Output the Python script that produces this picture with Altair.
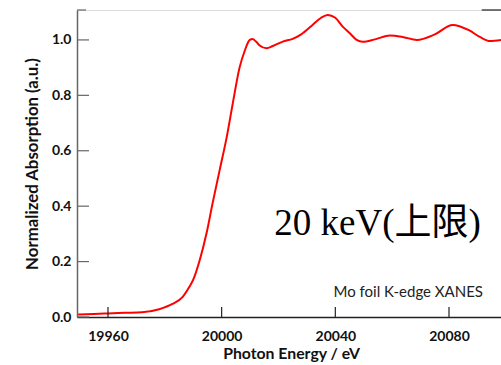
import altair as alt
import pandas as pd

# Mo foil K-edge XANES spectrum (normalized)
energy = [19949.5, 19955, 19960, 19966, 19972, 19978, 19982.7, 19986.3, 19988.7,
          19990, 19992.3, 19994.7, 19996.8, 19999.3, 20001.8, 20003.9, 20006.3,
          20008.1, 20009.9, 20010.9, 20012, 20013.4, 20015.8, 20018, 20021.5,
          20025, 20028, 20032, 20035, 20037.3, 20040, 20042.6, 20045.1, 20047.5,
          20049.6, 20054, 20059.2, 20064, 20068.7, 20075, 20081.3, 20087, 20091,
          20094.4, 20098.3]
absorption = [0.009, 0.011, 0.013, 0.015, 0.017, 0.028, 0.047, 0.073, 0.11,
              0.135, 0.206, 0.303, 0.41, 0.53, 0.65, 0.77, 0.90,
              0.96, 1.0, 1.003, 0.995, 0.98, 0.970, 0.978, 0.994,
              1.004, 1.02, 1.054, 1.08, 1.090, 1.08, 1.048, 1.024, 1.0,
              0.993, 1.002, 1.016, 1.01, 1.0, 1.02, 1.054, 1.035, 1.01,
              0.996, 1.0]

x_ticks = [19960, 20000, 20040, 20080]
y_ticks = [0.0, 0.2, 0.4, 0.6, 0.8, 1.0]

X_DOMAIN = [19949.1, 20098.3]
Y_DOMAIN = [0, 1.108]
W, H = 424, 307
FONT = "Lato"

spec = pd.DataFrame({"energy": energy, "absorption": absorption})
xt = pd.DataFrame({"v": x_ticks})
yt = pd.DataFrame({"v": y_ticks})

xscale = alt.Scale(domain=X_DOMAIN, nice=False, zero=False)
yscale = alt.Scale(domain=Y_DOMAIN, nice=False, zero=False)

line = alt.Chart(spec).mark_line(
    color="#ff0000", strokeWidth=2, interpolate="monotone", clip=True
).encode(
    x=alt.X("energy:Q", scale=xscale, axis=alt.Axis(
        values=x_ticks, format="d", ticks=False, grid=False,
        labelFont=FONT, labelFontWeight="bold", labelFontSize=14,
        labelColor="#111", labelPadding=12, domainColor="#222", domainWidth=1.5,
        title="Photon Energy / eV", titleFont=FONT, titleFontWeight="bold",
        titleFontSize=15.8, titleColor="#111", titleX=214, titleY=36,
        titleBaseline="middle", titleAlign="center")),
    y=alt.Y("absorption:Q", scale=yscale, axis=alt.Axis(
        values=y_ticks, format=".1f", ticks=False, grid=False,
        labelFont=FONT, labelFontWeight="bold", labelFontSize=14,
        labelColor="#111", labelPadding=6, domainColor="#666", domainWidth=1.5,
        title="Normalized Absorption (a.u.)", titleFont=FONT,
        titleFontWeight="bold", titleFontSize=16.8, titleColor="#111",
        titleX=-45, titleY=153.5, titleAngle=270, titleBaseline="middle",
        titleAlign="center")),
)

# inward-pointing tick marks
xtick_marks = alt.Chart(xt).mark_rule(color="#222", strokeWidth=1.2).encode(
    x=alt.X("v:Q", scale=xscale), y=alt.value(H), y2=alt.value(H - 10))
ytick_marks = alt.Chart(yt).mark_rule(color="#666", strokeWidth=1.2).encode(
    y=alt.Y("v:Q", scale=yscale), x=alt.value(0), x2=alt.value(12))
top_tick = alt.Chart(pd.DataFrame({"v": [Y_DOMAIN[1]]})).mark_rule(
    color="#666", strokeWidth=1.2).encode(
    y=alt.Y("v:Q", scale=yscale), x=alt.value(0), x2=alt.value(9))
top_seg = alt.Chart(pd.DataFrame({"a": [20091.5], "b": [X_DOMAIN[1]]})).mark_rule(
    color="#222", strokeWidth=1.2).encode(
    x=alt.X("a:Q", scale=xscale), x2="b:Q", y=alt.value(0))

note = alt.Chart(pd.DataFrame({"t": ["Mo foil K-edge XANES"]})).mark_text(
    font=FONT, fontSize=15, color="#222", align="right", baseline="middle"
).encode(text="t:N", x=alt.value(406), y=alt.value(282))

label = alt.Chart(pd.DataFrame({"t": ["20 keV(上限)"]})).mark_text(
    font="Liberation Serif, 'Noto Sans CJK JP'", fontSize=37, color="#000",
    align="center", baseline="alphabetic"
).encode(text="t:N", x=alt.value(300.5), y=alt.value(225))

chart = alt.layer(line, xtick_marks, ytick_marks, top_tick, top_seg, note, label).properties(
    width=W, height=H,
    padding={"left": 77, "top": 10, "right": 0, "bottom": 48},
    autosize=alt.AutoSizeParams(type="none"),
).configure_view(stroke=None).configure(background="white")

chart.save("out.html", embed_options={"renderer": "svg", "actions": False})
